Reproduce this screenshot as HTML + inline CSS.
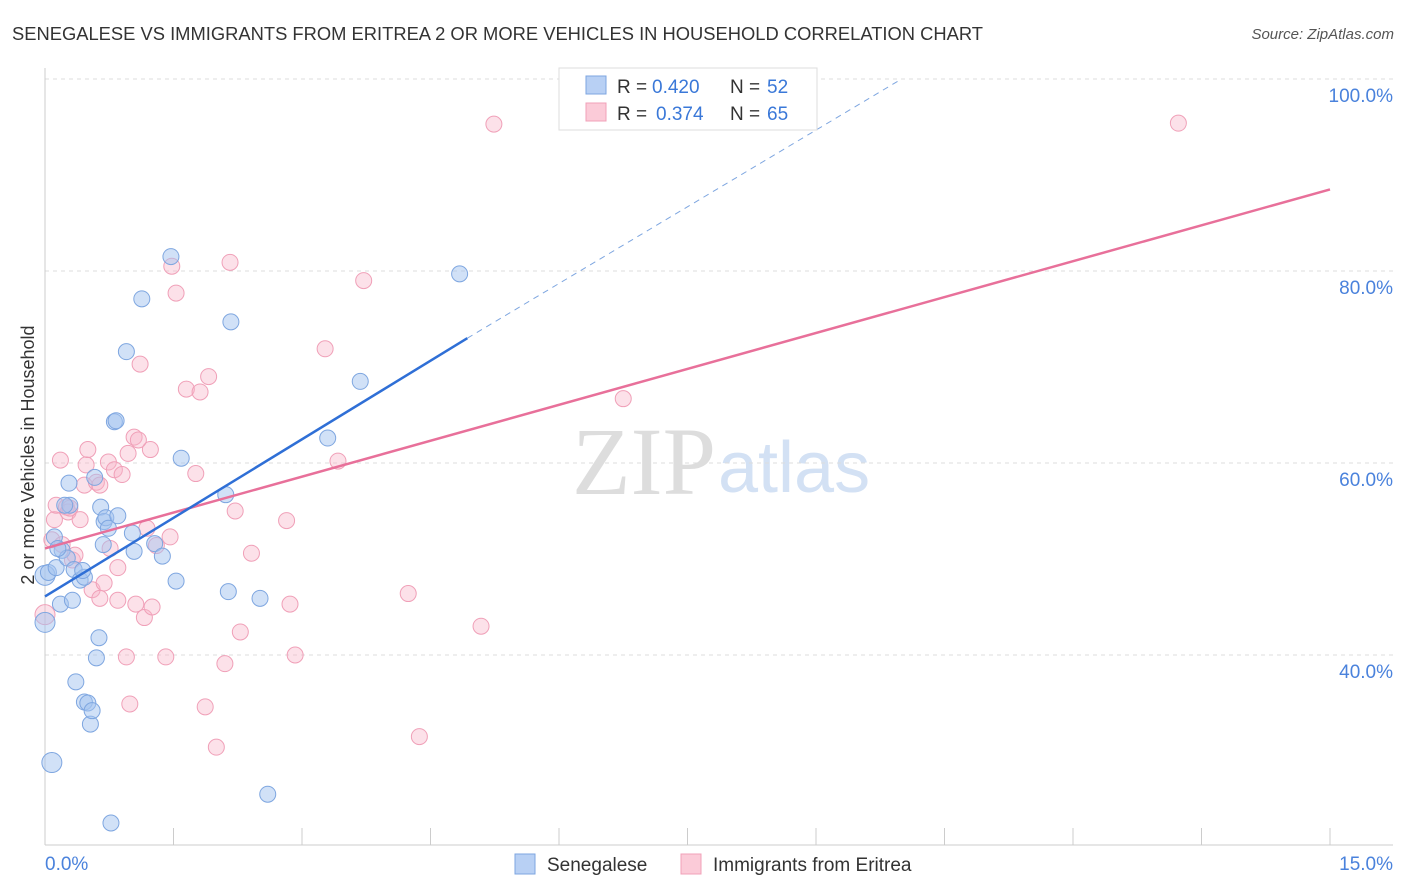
<!DOCTYPE html>
<html><head><meta charset="utf-8"><style>
body{margin:0;background:#fff;font-family:"Liberation Sans",sans-serif}
</style></head><body>
<svg id="chart" width="1406" height="892" style="display:block">
<text x="12" y="40" font-size="18" fill="#333" textLength="971" lengthAdjust="spacingAndGlyphs">SENEGALESE VS IMMIGRANTS FROM ERITREA 2 OR MORE VEHICLES IN HOUSEHOLD CORRELATION CHART</text>
<text x="1394" y="39" font-size="15" fill="#555" font-style="italic" text-anchor="end">Source: ZipAtlas.com</text>
<text x="716" y="494" font-size="96" fill="#ddd" font-family="Liberation Serif,serif" text-anchor="end">ZIP</text>
<text x="718" y="492" font-size="72" fill="#d3e1f4">atlas</text>
<text transform="translate(34,455) rotate(-90)" font-size="18" fill="#333" text-anchor="middle">2 or more Vehicles in Household</text>
<g id="grid"></g><g id="marks"></g>
<g>
<rect x="559" y="68" width="258" height="62" fill="#fff" stroke="#ddd"/>
<rect x="586" y="76" width="20" height="18" fill="#b8d0f4" stroke="#7ea6e0"/>
<rect x="586" y="103" width="20" height="18" fill="#fbcbd8" stroke="#f0a0b8"/>
<text x="617" y="93" font-size="19" fill="#333">R =</text>
<text x="652" y="93" font-size="19" fill="#3a78d8">0.420</text>
<text x="730" y="93" font-size="19" fill="#333">N =</text>
<text x="767" y="93" font-size="19" fill="#3a78d8">52</text>
<text x="617" y="120" font-size="19" fill="#333">R =</text>
<text x="656" y="120" font-size="19" fill="#3a78d8">0.374</text>
<text x="730" y="120" font-size="19" fill="#333">N =</text>
<text x="767" y="120" font-size="19" fill="#3a78d8">65</text>
</g>
<g>
<rect x="515" y="854" width="20" height="20" fill="#b8d0f4" stroke="#7ea6e0"/>
<text x="547" y="871" font-size="19" fill="#333">Senegalese</text>
<rect x="681" y="854" width="20" height="20" fill="#fbcbd8" stroke="#f0a0b8"/>
<text x="713" y="871" font-size="19" fill="#333">Immigrants from Eritrea</text>
</g>
</svg>
<script>
const yTicks=[40,60,80,100];
const xTickLabels=["0.0%","15.0%"];
const blueX=[0,0.08,0,0.04,0.13,0.11,0.18,0.20,0.26,0.28,0.29,0.32,0.34,0.41,0.46,0.36,0.46,0.50,0.53,0.55,0.60,0.63,0.58,0.65,0.69,0.68,0.71,0.74,0.81,0.85,0.95,1.02,1.04,1.13,1.28,1.37,1.47,1.53,1.59,2.11,2.14,2.17,2.51,2.60,3.30,3.68,4.84,0.77,0.83,0.44,0.23,0.15];
const blueY=[43.4,28.8,48.3,48.6,49.1,52.3,45.3,50.9,50.1,57.9,55.6,45.7,48.9,47.8,48.1,37.2,35.1,35.0,32.8,34.2,39.7,41.8,58.5,55.4,53.9,51.5,54.3,53.2,64.3,54.5,71.6,52.7,50.8,77.1,51.6,50.3,81.5,47.7,60.5,56.7,46.6,74.7,45.9,25.5,62.6,68.5,79.7,22.5,64.4,48.8,55.6,51.1];
const pinkX=[0,0.08,0.11,0.13,0.18,0.25,0.27,0.32,0.35,0.41,0.46,0.48,0.50,0.55,0.60,0.64,0.69,0.74,0.76,0.81,0.85,0.90,0.85,0.95,0.97,0.99,1.04,1.06,1.11,1.16,1.19,1.23,1.25,1.30,1.41,1.46,1.48,1.53,1.65,1.76,1.81,1.87,1.91,2.00,2.10,2.16,2.22,2.28,2.41,2.82,2.86,2.92,3.27,3.42,3.72,4.24,4.37,5.09,5.24,6.75,13.23,0.20,0.29,0.64,1.09];
const pinkY=[44.2,52.0,54.1,55.6,60.3,55.4,54.9,49.9,50.4,54.1,57.7,59.8,61.4,46.8,58.0,57.7,47.5,60.1,51.1,59.3,49.1,58.8,45.7,39.8,61.0,34.9,62.7,45.3,70.3,43.9,53.2,61.4,45.0,51.4,39.8,52.3,80.5,77.7,67.7,58.9,67.4,34.6,69.0,30.4,39.1,80.9,55.0,42.4,50.6,54.0,45.3,40.0,71.9,60.2,79.0,46.4,31.5,43.0,95.3,66.7,95.4,51.5,55.3,45.9,62.4];
const blueTrend=[[0,46.1],[4.93,73.0],[9.98,99.9]];
const pinkTrend=[[0,51.1],[15,88.5]];
const NS="http://www.w3.org/2000/svg";
const X0=45,X1=1330,Y40=655,PX=9.6;
const xs=v=>X0+(X1-X0)*v/15, ys=v=>Y40-(v-40)*PX;
const grid=document.getElementById('grid'),marks=document.getElementById('marks');
function mk(t,a,p){const e=document.createElementNS(NS,t);for(const k in a)e.setAttribute(k,a[k]);p.appendChild(e);return e;}
yTicks.forEach(v=>{
 const l=mk('line',{x1:X0,x2:1393,y1:ys(v),y2:ys(v),stroke:'#ddd','stroke-dasharray':'4,4'},grid);
 
 
 const t=mk('text',{x:1393,y:ys(v)+23,'font-size':19,fill:'#4a82dc','text-anchor':'end'},grid);
 t.textContent=v.toFixed(1)+'%';
 
 
});
const ax=mk('line',{x1:X0,x2:X0,y1:68,y2:845,stroke:'#ccc'},grid);


const bx=mk('line',{x1:X0,x2:1393,y1:845,y2:845,stroke:'#ccc'},grid);


for(let i=0;i<=10;i++){const tk=mk('line',{x1:xs(i*1.5),x2:xs(i*1.5),y1:828,y2:845,stroke:'#ccc'},grid);
 
 }
[[xTickLabels[0],45,'start'],[xTickLabels[1],1393,'end']].forEach(a=>{const t=mk('text',{x:a[1],y:870,'font-size':19,fill:'#4a82dc','text-anchor':a[2]},grid);t.textContent=a[0];
 
 });
function pts(X,Y,fill,stroke,name){X.forEach((x,i)=>{const c=mk('circle',{cx:xs(x),cy:ys(Y[i]),r:(x===0||i===1&&name==='senegalese')?10:8,fill:fill,stroke:stroke,'stroke-width':1},marks);
 
 });}
pts(pinkX,pinkY,'rgba(248,180,200,0.4)','#f0a0b8','eritrea');
pts(blueX,blueY,'rgba(164,196,240,0.5)','#7ea6e0','senegalese');
const pl=mk('line',{x1:xs(pinkTrend[0][0]),y1:ys(pinkTrend[0][1]),x2:xs(pinkTrend[1][0]),y2:ys(pinkTrend[1][1]),stroke:'#e8709a','stroke-width':2.5},marks);


const bl=mk('line',{x1:xs(blueTrend[0][0]),y1:ys(blueTrend[0][1]),x2:xs(blueTrend[1][0]),y2:ys(blueTrend[1][1]),stroke:'#2f6fd6','stroke-width':2.5},marks);


const bd=mk('line',{x1:xs(blueTrend[1][0]),y1:ys(blueTrend[1][1]),x2:xs(blueTrend[2][0]),y2:ys(blueTrend[2][1]),stroke:'#7ea6e0','stroke-width':1,'stroke-dasharray':'6,5'},marks);


</script>
</body></html>
